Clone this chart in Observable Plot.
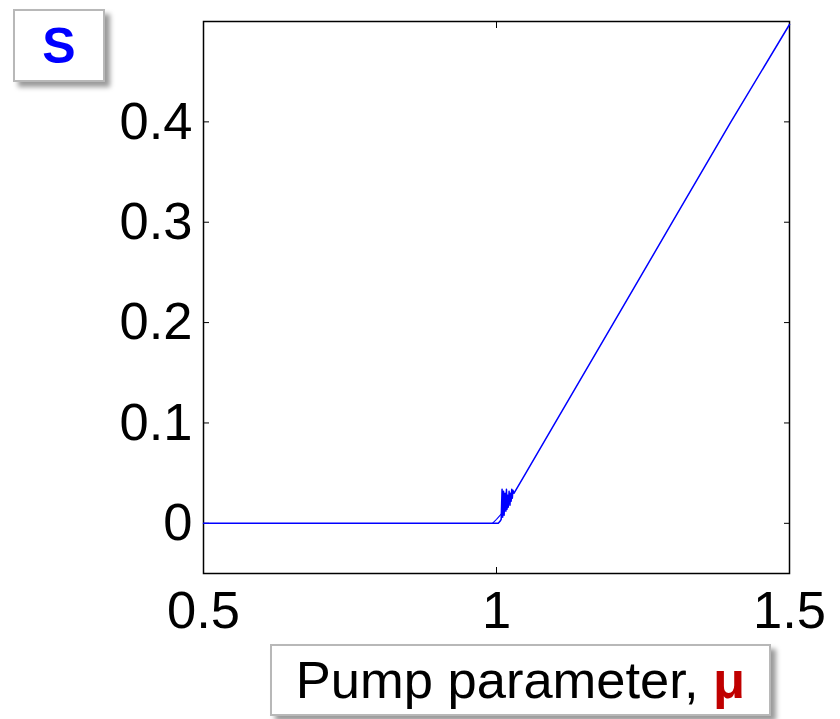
<!DOCTYPE html>
<html><head><meta charset="utf-8">
<script src="https://cdn.jsdelivr.net/npm/d3@7"></script>
<script src="https://cdn.jsdelivr.net/npm/@observablehq/plot@0.6"></script>
<style>
body{margin:0;background:#fff;font-family:"Liberation Sans",Arial,sans-serif;}
#wrap{position:relative;width:840px;height:719px;overflow:hidden;}
.box{position:absolute;background:#fff;border:2px solid #b8b8b8;box-shadow:5px 5px 5px #9a9a9a;box-sizing:border-box;display:flex;align-items:center;justify-content:center;}
</style></head>
<body><div id="wrap">
<div id="chart"></div>
<div class="box" style="left:13px;top:9px;width:92px;height:73px;"><span style="color:#0000ff;font-weight:bold;font-size:50px;line-height:1;">S</span></div>
<div class="box" style="left:270px;top:644px;width:501px;height:72px;"><span style="color:#000;font-size:52.5px;white-space:nowrap;line-height:1;">Pump parameter, <b style="color:#c00000;">μ</b></span></div>
</div>
<script>
// main branch of S(mu)
const mu = [0.5, 0.8, 1.0, 1.003, 1.006, 1.008, 1.0095, 1.0105, 1.012, 1.013, 1.0145, 1.016, 1.017, 1.018, 1.019, 1.020, 1.0215, 1.023, 1.024, 1.025, 1.026, 1.027, 1.028, 1.030, 1.035, 1.05, 1.1, 1.2, 1.3, 1.4, 1.5];
const S  = [0, 0, 0, 0, 0.002, 0.004, 0.034, 0.006, 0.032, 0.008, 0.030, 0.012, 0.034, 0.014, 0.028, 0.016, 0.032, 0.018, 0.030, 0.022, 0.034, 0.025, 0.033, 0.030, 0.035, 0.050, 0.100, 0.200, 0.300, 0.400, 0.497];
// second thin branch near threshold
const mu2 = [0.993, 1.0, 1.006, 1.011];
const S2  = [0, 0.004, 0.008, 0.011];
const xTicks = [0.5, 1, 1.5];
const yTicks = [0, 0.1, 0.2, 0.3, 0.4];

const main = mu.map((m, i) => ({mu: m, S: S[i]}));
const branch = mu2.map((m, i) => ({mu: m, S: S2[i]}));

const chart = Plot.plot({
  width: 840, height: 719,
  marginLeft: 203, marginRight: 51, marginTop: 21, marginBottom: 146,
  style: {fontFamily: "'Liberation Sans', Arial, sans-serif", background: "#fff", overflow: "visible"},
  x: {domain: [0.5, 1.5]},
  y: {domain: [-0.05, 0.5]},
  marks: [
    Plot.frame({stroke: "#000", strokeWidth: 1.5}),
    Plot.axisX(xTicks, {anchor: "bottom", tickSize: 0, tickPadding: 17, fontSize: 52.5, tickFormat: d => String(d), color: "#000", label: null}),
    Plot.axisX(xTicks, {anchor: "bottom", tickSize: -6, text: null, stroke: "#000", label: null}),
    Plot.axisX(xTicks, {anchor: "top", tickSize: -6, text: null, stroke: "#000", label: null}),
    Plot.axisY(yTicks, {anchor: "left", tickSize: 0, tickPadding: 11, fontSize: 52.5, tickFormat: d => String(d), color: "#000", label: null}),
    Plot.axisY(yTicks, {anchor: "left", tickSize: -6, text: null, stroke: "#000", label: null}),
    Plot.axisY(yTicks, {anchor: "right", tickSize: -6, text: null, stroke: "#000", label: null}),
    Plot.line(branch, {x: "mu", y: "S", stroke: "#0000ff", strokeWidth: 1.1}),
    Plot.line(main, {x: "mu", y: "S", stroke: "#0000ff", strokeWidth: 1.5})
  ]
});
document.getElementById("chart").appendChild(chart);
</script>
</body></html>
